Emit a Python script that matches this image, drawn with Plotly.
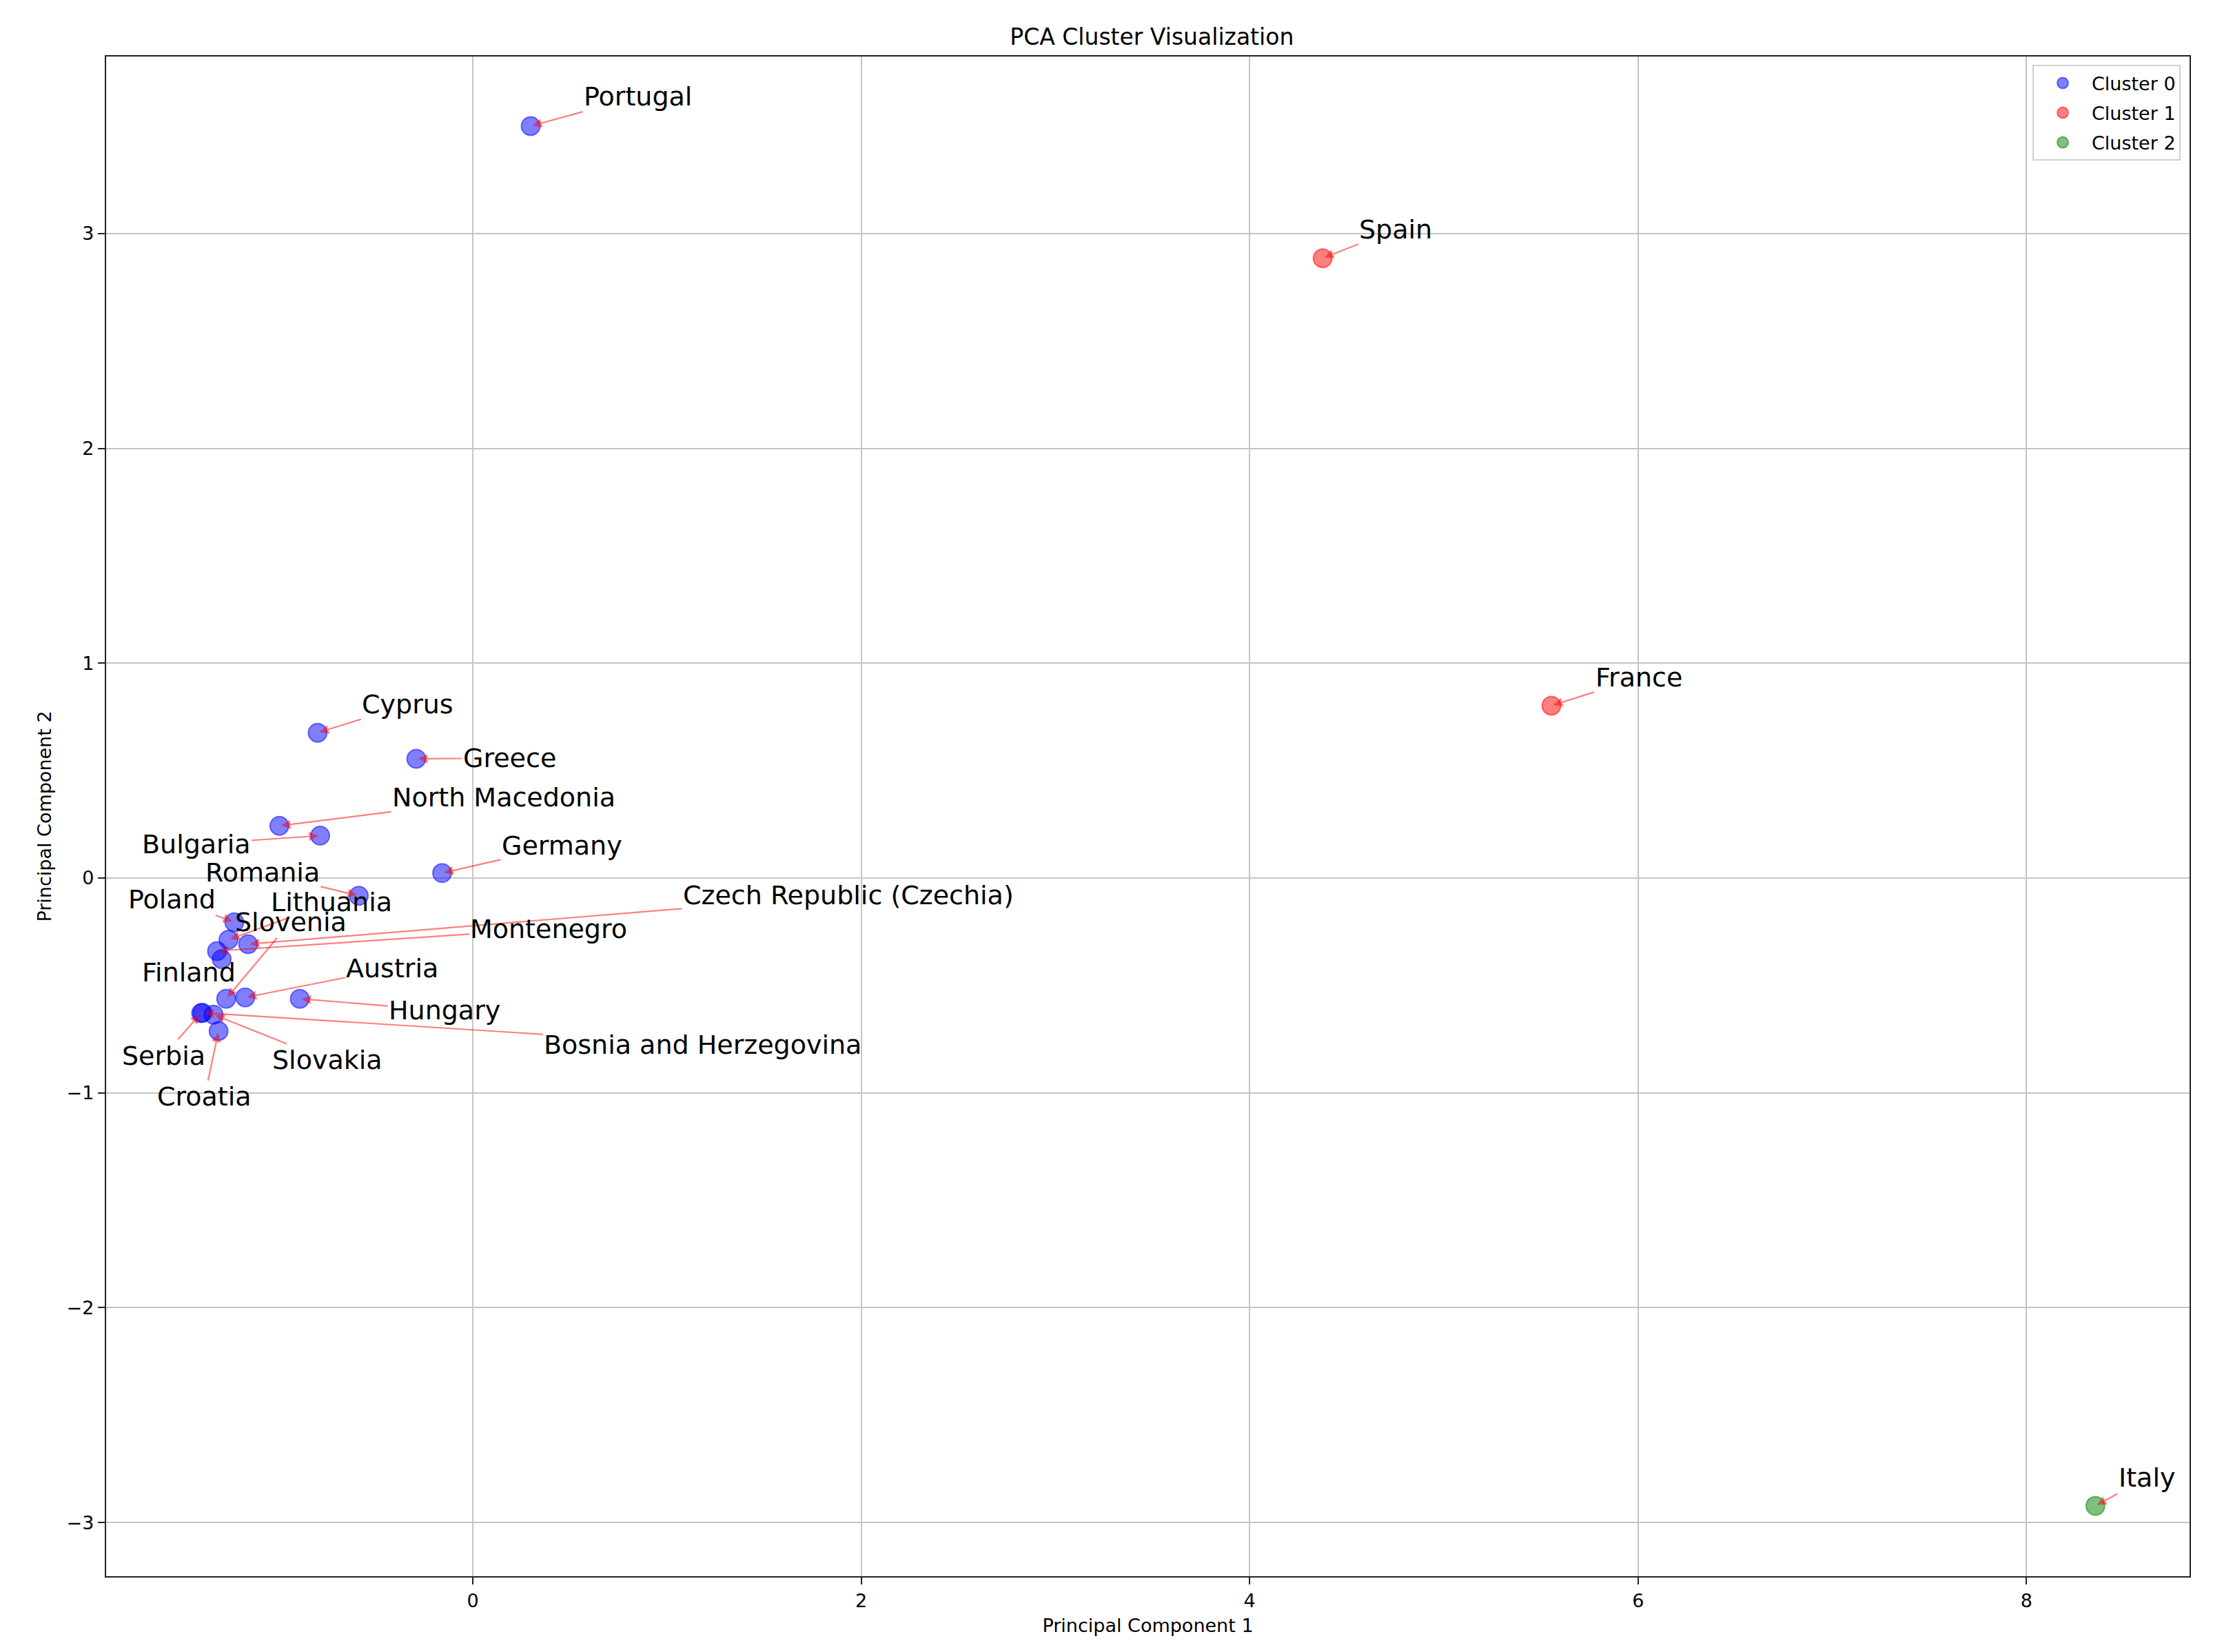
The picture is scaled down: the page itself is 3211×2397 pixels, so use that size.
import plotly.graph_objects as go

# ---------------- data ----------------
countries = ["Portugal", "Cyprus", "Greece", "North Macedonia", "Bulgaria", "Germany",
             "Romania", "Poland", "Lithuania", "Czech Republic (Czechia)", "Montenegro",
             "Finland", "Slovenia", "Austria", "Hungary", "Serbia",
             "Bosnia and Herzegovina", "Slovakia", "Croatia",
             "Spain", "France", "Italy"]
pc1 = [0.298, -0.799, -0.291, -0.996, -0.786, -0.158,
       -0.587, -1.228, -1.258, -1.157, -1.317,
       -1.293, -1.270, -1.172, -0.891, -1.399,
       -1.392, -1.335, -1.309,
       4.376, 5.554, 8.355]
pc2 = [3.500, 0.676, 0.555, 0.243, 0.197, 0.023,
       -0.083, -0.206, -0.287, -0.308, -0.340,
       -0.378, -0.562, -0.556, -0.562, -0.629,
       -0.627, -0.636, -0.712,
       2.885, 0.802, -2.923]
cluster = [0, 0, 0, 0, 0, 0,
           0, 0, 0, 0, 0,
           0, 0, 0, 0, 0,
           0, 0, 0,
           1, 1, 2]
cluster_names = ["Cluster 0", "Cluster 1", "Cluster 2"]

# label (text) positions in data coordinates, placed as in the reference
label_x = [0.850, -0.334, 0.189, 0.160, -1.424, 0.458,
           -1.083, -1.548, -0.727, 1.933, 0.392,
           -1.461, -0.938, -0.414, -0.145, -1.592,
           1.185, -0.749, -1.381,
           4.753, 6.003, 8.619]
label_y = [3.638, 0.808, 0.558, 0.374, 0.158, 0.151,
           0.026, -0.098, -0.112, -0.079, -0.236,
           -0.440, -0.204, -0.420, -0.617, -0.827,
           -0.775, -0.847, -1.018,
           3.020, 0.932, -2.791]

# ---------------- styles ----------------
fill = ["rgba(0,0,255,0.5)", "rgba(255,0,0,0.5)", "rgba(0,128,0,0.5)"]
FONT = "DejaVu Sans"

fig = go.Figure()
for k, name in enumerate(cluster_names):
    xs = [x for x, c in zip(pc1, cluster) if c == k]
    ys = [y for y, c in zip(pc2, cluster) if c == k]
    fig.add_trace(go.Scatter(
        x=xs, y=ys, mode="markers", name=name, legendgroup=name,
        marker=dict(size=27, color=fill[k], line=dict(color=fill[k], width=2)),
    ))

annotations = []
for name, x, y, tx, ty in zip(countries, pc1, pc2, label_x, label_y):
    annotations.append(dict(
        x=x, y=y, xref="x", yref="y",
        ax=tx, ay=ty, axref="x", ayref="y",
        text=name, showarrow=True,
        arrowhead=2, arrowsize=1.2, arrowwidth=2.2,
        arrowcolor="rgba(255,0,0,0.5)", standoff=3, startstandoff=0,
        font=dict(family=FONT, size=38, color="black"),
    ))

axis_common = dict(
    showgrid=True, gridcolor="#c4c4c4", gridwidth=2.4,
    zeroline=False, showline=True, linecolor="#222222", linewidth=2.4, mirror=True,
    ticks="outside", ticklen=10, tickwidth=2.2, tickcolor="#222222",
    tickfont=dict(family=FONT, size=27, color="black"),
)

fig.update_layout(
    width=3211, height=2397,
    margin=dict(l=146, r=42, t=74, b=118),
    paper_bgcolor="white", plot_bgcolor="white",
    title=dict(text="PCA Cluster Visualization", x=0.518, xanchor="center",
               y=0.981, yanchor="middle",
               font=dict(family=FONT, size=33, color="black")),
    xaxis=dict(range=[-1.888, 8.84], tickvals=[0, 2, 4, 6, 8],
               title=dict(text="Principal Component 1", standoff=12,
                          font=dict(family=FONT, size=27, color="black")),
               **axis_common),
    yaxis=dict(range=[-3.25, 3.824], tickvals=[-3, -2, -1, 0, 1, 2, 3],
               title=dict(text="Principal Component 2", standoff=14,
                          font=dict(family=FONT, size=27, color="black")),
               **axis_common),
    legend=dict(x=0.9957, y=0.9944, xanchor="right", yanchor="top",
                bgcolor="rgba(255,255,255,0.8)", bordercolor="#d0d0d0", borderwidth=2,
                font=dict(family=FONT, size=27, color="black"),
                itemwidth=74, traceorder="grouped", tracegroupgap=5),
    annotations=annotations,
    showlegend=True,
)

fig.write_html("out.html")
